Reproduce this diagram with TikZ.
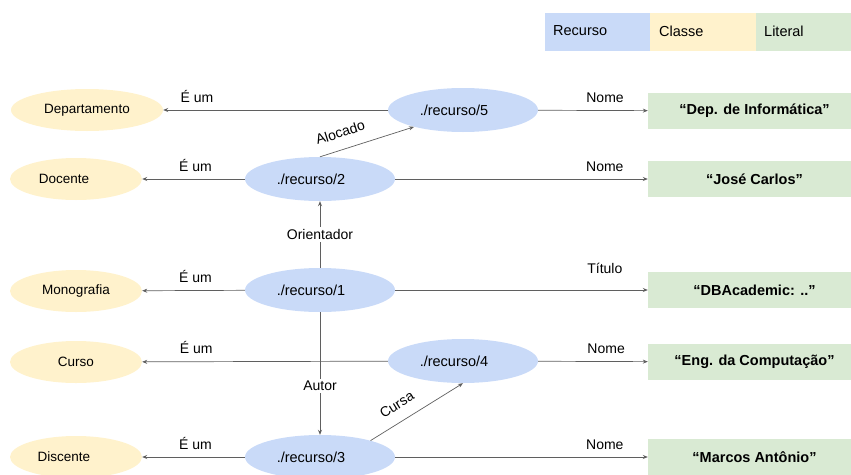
\documentclass[tikz,border=0pt]{standalone}
\usepackage{fontspec}
\setmainfont{Liberation Sans}
\usetikzlibrary{shapes.geometric, arrows.meta}

\definecolor{correcurso}{HTML}{C9DAF8}
\definecolor{corclasse}{HTML}{FFF2CC}
\definecolor{corliteral}{HTML}{D9EAD3}
\definecolor{corlinha}{HTML}{5F5F5F}

\tikzset{
  recurso/.style={ellipse, fill=correcurso, minimum width=150pt, minimum height=44pt,
    inner sep=0pt, font=\fontsize{14.5}{17}\selectfont,
    execute at begin node=\hspace*{-18pt}},
  classe/.style={ellipse, fill=corclasse, minimum width=132pt, minimum height=42pt,
    inner sep=0pt, font=\fontsize{13.5}{16}\selectfont},
  classeesq/.style={classe, execute at begin node=\hspace*{-24pt}},
  literal/.style={rectangle, fill=corliteral, minimum width=203pt, minimum height=36pt,
    inner sep=0pt, font=\bfseries\fontsize{14.5}{17}\selectfont,
    execute at begin node=\hspace*{10pt}},
  legenda/.style={rectangle, minimum height=38pt, inner sep=0pt},
  textoleg/.style={anchor=west, inner sep=0pt, font=\fontsize{14.5}{17}\selectfont},
  rel/.style={draw=corlinha, line width=0.7pt, -{Stealth[length=5pt,width=4pt]}},
  rotulo/.style={above=7.5pt, inner sep=0pt, font=\fontsize{14}{16}\selectfont},
  rotulomeio/.style={fill=white, inner sep=2pt, font=\fontsize{14}{16}\selectfont},
}

\begin{document}
\begin{tikzpicture}[x=1pt,y=-1pt]
\clip (0,0) rectangle (851,474);
% Legend
\node[legenda, fill=correcurso, minimum width=105pt] (legrec) at (597.5,32) {};
\node[legenda, fill=corclasse, minimum width=106pt] (legcla) at (703,32) {};
\node[legenda, fill=corliteral, minimum width=95pt] (leglit) at (803.5,32) {};
\node[textoleg] (txtrec) at (553,31) {Recurso};
\node[textoleg] (txtcla) at (659,31) {Classe};
\node[textoleg] (txtlit) at (764,31) {Literal};
% Classes
\node[classe, minimum width=152pt] (dep) at (87,110) {Departamento};
\node[classeesq] (doc) at (76,179) {Docente};
\node[classe] (mon) at (76,291) {Monografia};
\node[classe] (cur) at (76,362) {Curso};
\node[classeesq] (dis) at (76,457) {Discente};
% Resources
\node[recurso] (r5) at (463,110) {./recurso/5};
\node[recurso] (r2) at (320,179) {./recurso/2};
\node[recurso] (r1) at (320,290) {./recurso/1};
\node[recurso] (r4) at (463,361) {./recurso/4};
\node[recurso] (r3) at (320,457) {./recurso/3};
% Literals
\node[literal] (litdep) at (749.5,111) {“Dep. de Informática”};
\node[literal] (litjos) at (749.5,179) {“José Carlos”};
\node[literal] (litdba) at (749.5,290) {“DBAcademic: ..”};
\node[literal] (liteng) at (749.5,362) {“Eng. da Computação”};
\node[literal] (litmar) at (749.5,457) {“Marcos Antônio”};
% Type edges
\draw[rel] (r5) -- node[rotulo, pos=.85] {É um} (dep);
\draw[rel] (r2) -- node[rotulo, pos=.48] {É um} (doc);
\draw[rel] (r1) -- node[rotulo, pos=.48] {É um} (mon);
\draw[rel] (r4) -- node[rotulo, pos=.78] {É um} (cur);
\draw[rel] (r3) -- node[rotulo, pos=.48] {É um} (dis);
% Literal edges
\draw[rel] (r5) -- node[rotulo, pos=.61] {Nome} (litdep);
\draw[rel] (r2) -- node[rotulo, pos=.83] {Nome} (litjos);
\draw[rel] (r1) -- node[rotulo, above=8.5pt, pos=.83] {Título} (litdba);
\draw[rel] (r4) -- node[rotulo, pos=.62] {Nome} (liteng);
\draw[rel] (r3) -- node[rotulo, pos=.83] {Nome} (litmar);
% Links between resources
\draw[rel] (r2.north) -- node[rotulo, sloped, above=4pt, pos=.27] {Alocado} (r5.199);
\draw[rel] (r3.18) -- node[rotulo, sloped, above=4pt, pos=.38] {Cursa} (r4.south);
\draw[rel] (r1) -- node[rotulomeio, pos=.5] {Orientador} (r2);
\draw[rel] (r1) -- node[rotulomeio, pos=.6] {Autor} (r3);
\end{tikzpicture}
\end{document}
